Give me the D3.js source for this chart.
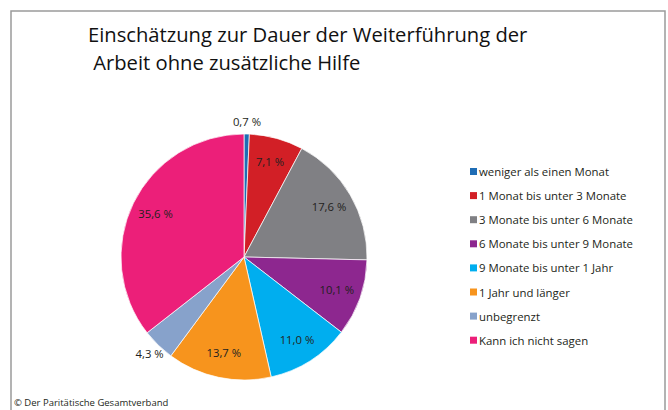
<!DOCTYPE html>
<html>
<head>
<meta charset="utf-8">
<script src="https://cdn.jsdelivr.net/npm/d3@7"></script>
<style>
  body { margin: 0; background: #fff; }
  svg { display: block; font-family: "Open Sans", "Noto Sans", sans-serif; }
</style>
</head>
<body>
<div id="chart"></div>
<script>
const categories = [
  "weniger als einen Monat",
  "1 Monat bis unter 3 Monate",
  "3 Monate bis unter 6 Monate",
  "6 Monate bis unter 9 Monate",
  "9 Monate bis unter 1 Jahr",
  "1 Jahr und länger",
  "unbegrenzt",
  "Kann ich nicht sagen",
];
const values = [0.7, 7.1, 17.6, 10.1, 11.0, 13.7, 4.3, 35.6];
const colors = ["#1f6db5", "#d21f26", "#808084", "#8d278f", "#00aeef", "#f7941d", "#87a2cb", "#ec1f79"];
const titleLines = ["Einschätzung zur Dauer der Weiterführung der", " Arbeit ohne zusätzliche Hilfe"];
const source = "© Der Paritätische Gesamtverband";

const W = 668, H = 410;
const cx = 244, cy = 257, R = 123;

const svg = d3.select("#chart").append("svg")
  .attr("width", W).attr("height", H);

// frame
svg.append("rect")
  .attr("x", 11).attr("y", 11).attr("width", 654).attr("height", 410)
  .attr("fill", "none").attr("stroke", "#9a9a9a").attr("stroke-width", 1.5);

// title
svg.append("g").selectAll("text").data(titleLines).join("text")
  .attr("x", 88).attr("y", (d, i) => 42 + i * 28)
  .attr("font-size", 20.2).attr("fill", "#111")
  .style("white-space", "pre")
  .text((d) => d);

const data = categories.map((c, i) => ({ cat: c, value: values[i], color: colors[i] }));

const pie = d3.pie().sort(null).value((d) => d.value);
const arcs = pie(data);
const arc = d3.arc().innerRadius(0).outerRadius(R);

const g = svg.append("g").attr("transform", `translate(${cx},${cy})`);

g.selectAll("path").data(arcs).join("path")
  .attr("d", arc)
  .attr("fill", (d) => d.data.color)
  .attr("stroke", "#fff").attr("stroke-width", 0.7);

const inner = d3.arc().innerRadius(R * 0.8).outerRadius(R * 0.8);
const outer = d3.arc().innerRadius(R * 1.1).outerRadius(R * 1.1);

const fmt = (v) => d3.format(".1f")(v).replace(".", ",") + " %";

g.selectAll("text.lbl").data(arcs).join("text")
  .attr("class", "lbl")
  .attr("transform", (d) => `translate(${(d.data.value < 5 ? outer : inner).centroid(d)})`)
  .attr("text-anchor", "middle")
  .attr("dy", "0.35em")
  .attr("font-size", 11.3).attr("fill", "#231f20")
  .text((d) => fmt(d.data.value));

// legend
const leg = svg.append("g").attr("transform", "translate(470,172)");
const rows = leg.selectAll("g").data(data).join("g")
  .attr("transform", (d, i) => `translate(0,${i * 24.1})`);
rows.append("rect")
  .attr("x", 0).attr("y", -4).attr("width", 7).attr("height", 7)
  .attr("fill", (d) => d.color);
rows.append("text")
  .attr("x", 9).attr("dy", "0.35em")
  .attr("font-size", 11.4).attr("fill", "#231f20")
  .text((d) => d.cat);

svg.append("text")
  .attr("x", 14).attr("y", 406)
  .attr("font-size", 9.5).attr("fill", "#231f20")
  .text(source);
</script>
</body>
</html>
